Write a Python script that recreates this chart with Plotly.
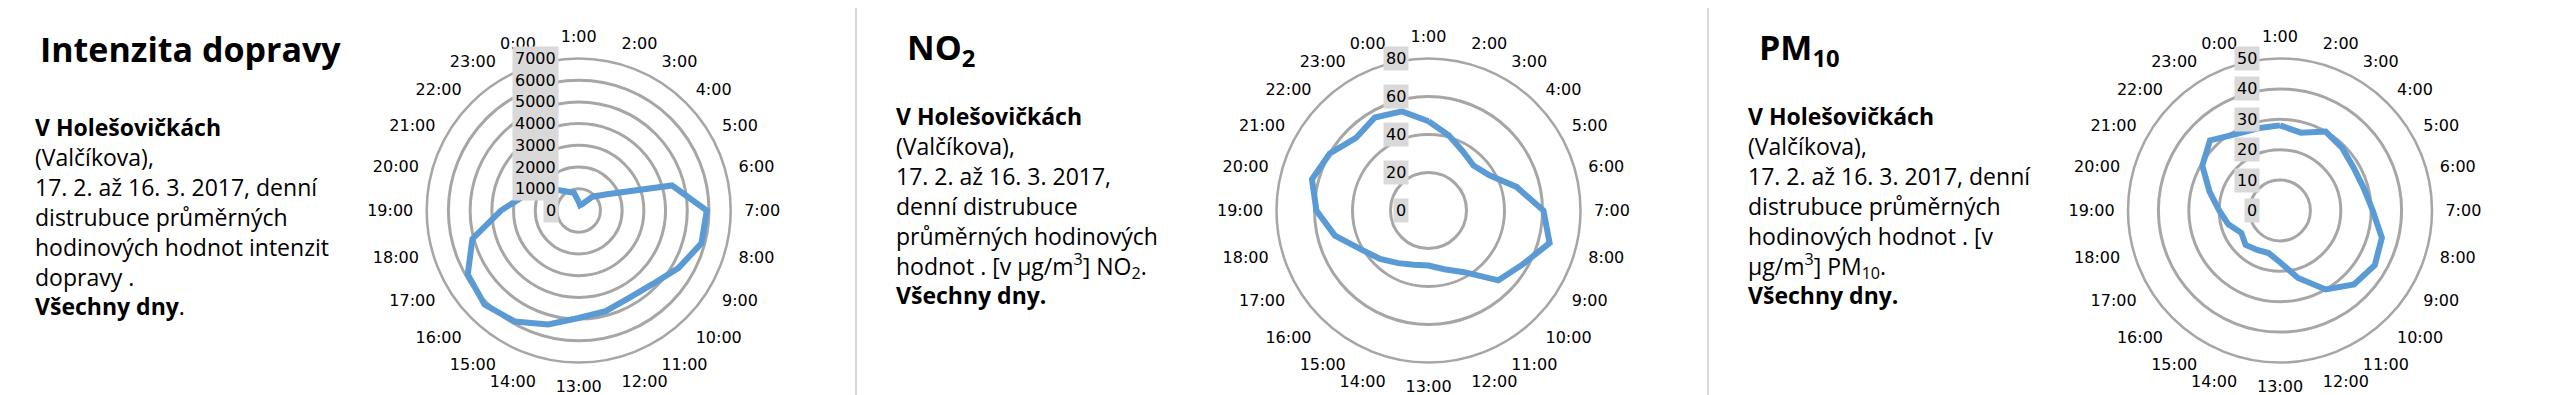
import plotly.graph_objects as go

hours = ["1:00", "2:00", "3:00", "4:00", "5:00", "6:00", "7:00", "8:00", "9:00", "10:00",
         "11:00", "12:00", "13:00", "14:00", "15:00", "16:00", "17:00", "18:00", "19:00",
         "20:00", "21:00", "22:00", "23:00", "0:00"]

traffic = [400, 250, 350, 900, 1500, 4450, 5900, 5850, 5300, 4800, 4650, 4800,
           4950, 5430, 5900, 6130, 5900, 5070, 3580, 2600, 1700, 1330, 1000, 850]
no2 = [47, 41, 36, 33.5, 37, 48, 60.5, 66, 57, 52, 37.5, 32,
       29, 29.5, 32, 36, 41, 51, 59, 63.5, 60, 54, 56.5, 54]
pm10 = [28, 26.5, 30, 29, 28, 28.5, 30.5, 34.7, 36, 34.4, 30, 23,
        17, 14.5, 15, 16, 14.7, 17.6, 20, 24, 29.5, 32.6, 29, 28]

traffic_ticks = [0, 1000, 2000, 3000, 4000, 5000, 6000, 7000]
no2_ticks = [0, 20, 40, 60, 80]
pm10_ticks = [0, 10, 20, 30, 40, 50]

titles = ["Intenzita dopravy", "NO<sub>2</sub>", "PM<sub>10</sub>"]
bodies = [
    "<b>V Holešovičkách</b><br>(Valčíkova),<br>17. 2. až 16. 3. 2017, denní<br>distrubuce průměrných<br>"
    "hodinových hodnot intenzit<br>dopravy .<br><b>Všechny dny</b>.",
    "<b>V Holešovičkách</b><br>(Valčíkova),<br>17. 2. až 16. 3. 2017,<br>denní distrubuce<br>"
    "průměrných hodinových<br>hodnot . [v µg/m<sup>3</sup>] NO<sub>2</sub>.<br><b>Všechny dny.</b>",
    "<b>V Holešovičkách</b><br>(Valčíkova),<br>17. 2. až 16. 3. 2017, denní<br>distrubuce průměrných<br>"
    "hodinových hodnot . [v<br>µg/m<sup>3</sup>] PM<sub>10</sub>.<br><b>Všechny dny.</b>",
]

W, H = 2551, 395
LINE = "#5B9BD5"
GRID = "#a6a6a6"
LBL_FONT = "DejaVu Sans"
TXT_FONT = "Open Sans"

centers_x = [570.7, 1420.5, 2272.0]
cy = 202.5
R = 152.0
title_x = [30, 897, 1749]
body_x = [25, 886, 1738]
body_top = [101, 90, 90]

series = [traffic, no2, pm10]
ticks = [traffic_ticks, no2_ticks, pm10_ticks]

fig = go.Figure()
annotations = []
layout = {}

ydom = [1 - (cy + R) / H, 1 - (cy - R) / H]

for i in range(3):
    vals = series[i]
    tv = ticks[i]
    rmax = tv[-1]
    pk = "polar" if i == 0 else f"polar{i+1}"
    xk = "x" if i == 0 else f"x{i+1}"
    yk = "y" if i == 0 else f"y{i+1}"
    xdom = [(centers_x[i] - R) / W, (centers_x[i] + R) / W]

    fig.add_trace(go.Scatterpolar(
        r=list(vals) + [vals[0]], theta=list(hours) + [hours[0]],
        mode="lines", line=dict(color=LINE, width=6),
        subplot=pk, showlegend=False, hoverinfo="skip"))

    layout[pk] = dict(
        domain=dict(x=xdom, y=ydom),
        bgcolor="rgba(0,0,0,0)",
        angularaxis=dict(type="category", categoryarray=hours, direction="clockwise",
                         rotation=90, showgrid=False, ticks="outside", ticklen=9,
                         tickcolor="rgba(0,0,0,0)", showline=True,
                         linecolor=GRID, linewidth=2.5,
                         tickfont=dict(family=LBL_FONT, size=16, color="black")),
        radialaxis=dict(range=[0, rmax], tickvals=tv, showticklabels=False, ticks="",
                        showline=False, gridcolor=GRID, gridwidth=2.5),
    )

    # invisible cartesian overlay used to place the boxed radial tick labels
    fig.add_trace(go.Scatter(x=[None], y=[None], xaxis=xk, yaxis=yk,
                             showlegend=False, hoverinfo="skip"))
    xname = "xaxis" if i == 0 else f"xaxis{i+1}"
    yname = "yaxis" if i == 0 else f"yaxis{i+1}"
    layout[xname] = dict(domain=xdom, range=[-rmax, rmax], visible=False,
                         anchor=yk, fixedrange=True)
    layout[yname] = dict(domain=ydom, range=[-rmax, rmax], visible=False,
                         anchor=xk, fixedrange=True)
    for t in tv:
        annotations.append(dict(
            x=0, y=t, xref=xk, yref=yk, text=str(t), showarrow=False,
            xanchor="right", yanchor="middle", xshift=-20,
            bgcolor="#d9d9d9", borderpad=2,
            font=dict(family=LBL_FONT, size=16, color="black")))

    annotations.append(dict(
        x=title_x[i] / W, y=1 - 41 / H, xref="paper", yref="paper",
        text=f"<b>{titles[i]}</b>", showarrow=False, xanchor="left", yanchor="middle",
        font=dict(family=TXT_FONT, size=34, color="black")))
    annotations.append(dict(
        x=body_x[i] / W, y=1 - body_top[i] / H, xref="paper", yref="paper",
        text=bodies[i], showarrow=False, xanchor="left", yanchor="top", align="left",
        font=dict(family=TXT_FONT, size=23, color="black")))

shapes = []
for xd in [848, 1700]:
    shapes.append(dict(type="line", xref="paper", yref="paper", x0=xd / W, x1=xd / W,
                       y0=0, y1=1, line=dict(color="#d9d9d9", width=2)))

fig.update_layout(
    width=W, height=H, margin=dict(l=0, r=0, t=0, b=0),
    paper_bgcolor="white", plot_bgcolor="rgba(0,0,0,0)",
    annotations=annotations, shapes=shapes, **layout)

fig.write_html("out.html")
